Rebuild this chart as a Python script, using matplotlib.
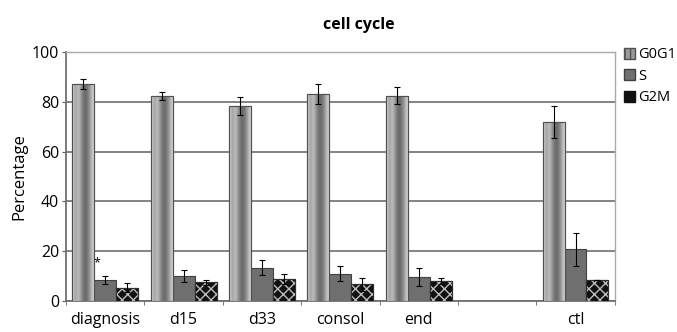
import numpy as np
import matplotlib
matplotlib.use("Agg")
import matplotlib.pyplot as plt
from matplotlib.patches import Patch

# data
categories = ["diagnosis", "d15", "d33", "consol", "end", "", "ctl"]
series = ["G0G1", "S", "G2M"]
g0g1 = [87.0, 82.4, 78.3, 83.0, 82.5, np.nan, 71.8]
g0g1_err = [2.0, 1.5, 3.5, 4.0, 3.5, np.nan, 6.5]
s_phase = [8.4, 10.0, 13.3, 10.9, 9.7, np.nan, 20.7]
s_err = [1.5, 2.4, 3.0, 3.0, 3.6, np.nan, 6.8]
g2m = [5.3, 7.5, 8.8, 6.7, 8.1, np.nan, 8.4]
g2m_err = [1.8, 1.0, 2.0, 2.6, 1.2, np.nan, 0.0]

plt.rcParams['font.family'] = ['Open Sans', 'DejaVu Sans']

fig = plt.figure(figsize=(6.77, 3.32), dpi=100)
ax = fig.add_axes([0.0975, 0.0934, 0.8105, 0.7496])

x = np.arange(len(categories))
w = 0.28

# G0G1: cylinder-like gradient fill clipped to each bar
bars0 = ax.bar(x - w, g0g1, w, color="#aaaaaa", edgecolor="#505050", linewidth=0.8, zorder=3)
profile = np.array([[0.80, 0.60, 0.78, 0.62, 0.48, 0.40, 0.48, 0.62, 0.80]])
for b in bars0:
    if np.isnan(b.get_height()):
        continue
    x0, y0 = b.get_x(), b.get_y()
    im = ax.imshow(profile, cmap="gray", vmin=0, vmax=1, aspect="auto",
                   extent=(x0, x0 + b.get_width(), y0, y0 + b.get_height()),
                   interpolation="bicubic", zorder=3.1)
    im.set_clip_path(b)
    ax.add_patch(plt.Rectangle((x0, y0), b.get_width(), b.get_height(), fill=False,
                               edgecolor="#505050", linewidth=0.8, zorder=3.2))

ax.errorbar(x - w, g0g1, yerr=g0g1_err, fmt="none", ecolor="black", elinewidth=0.8,
            capsize=2.5, capthick=0.8, zorder=4)

# S
ax.bar(x, s_phase, w, color="#6f6f6f", edgecolor="#404040", linewidth=0.8, zorder=3)
ax.errorbar(x, s_phase, yerr=s_err, fmt="none", ecolor="black", elinewidth=0.8,
            capsize=2.5, capthick=0.8, zorder=4)

# G2M: black with light wavy pattern
ax.bar(x + w, g2m, w, color="#111111", edgecolor="#111111", linewidth=0.8, zorder=3)
ax.bar(x + w, g2m, w, color="none", edgecolor="#bdbdbd", hatch="xxx", linewidth=0, zorder=3.1)
ax.bar(x + w, g2m, w, color="none", edgecolor="#303030", linewidth=0.8, zorder=3.2)
ax.errorbar(x + w, g2m, yerr=g2m_err, fmt="none", ecolor="black", elinewidth=0.8,
            capsize=2.5, capthick=0.8, zorder=4)

ax.text(x[0] - 0.1, 15.5, "*", ha="center", va="center", fontsize=9, zorder=5)

ax.set_ylim(0, 100)
ax.set_xlim(-0.5, len(categories) - 0.5)
ax.set_yticks([0, 20, 40, 60, 80, 100])
ax.yaxis.grid(True, color="#7a7a7a", linewidth=1.3)
ax.set_axisbelow(True)
ax.set_xticks(x)
ax.set_xticklabels(categories, fontsize=11.5)
ax.set_xticks(np.arange(len(categories) + 1) - 0.5, minor=True)
ax.tick_params(axis="x", which="major", length=0, pad=8)
ax.tick_params(axis="x", which="minor", length=3, color="#606060", direction="out")
ax.tick_params(axis="y", length=3, color="#606060", labelsize=11.5, pad=2)

for side in ["top", "right"]:
    ax.spines[side].set_color("#aaaaaa")
    ax.spines[side].set_linewidth(1.0)
ax.spines["left"].set_color("#707070")
ax.spines["bottom"].set_color("#707070")
ax.spines["left"].set_linewidth(1.3)
ax.spines["bottom"].set_linewidth(1.3)

ax.set_ylabel("Percentage", fontsize=12, labelpad=3)
ax.set_title("cell cycle", fontsize=11.5, fontweight="bold", pad=17, x=0.534)

handles = [Patch(facecolor="#9a9a9a", edgecolor="#505050", hatch="|||"),
           Patch(facecolor="#6f6f6f", edgecolor="#404040"),
           Patch(facecolor="#111111", edgecolor="#111111")]
fig.legend(handles, series, loc="upper left", bbox_to_anchor=(0.913, 0.875), frameon=False,
           fontsize=10.5, handlelength=0.75, handleheight=0.75, handletextpad=0.25,
           labelspacing=0.45, borderaxespad=0)

fig.savefig("out.png", dpi=100)
